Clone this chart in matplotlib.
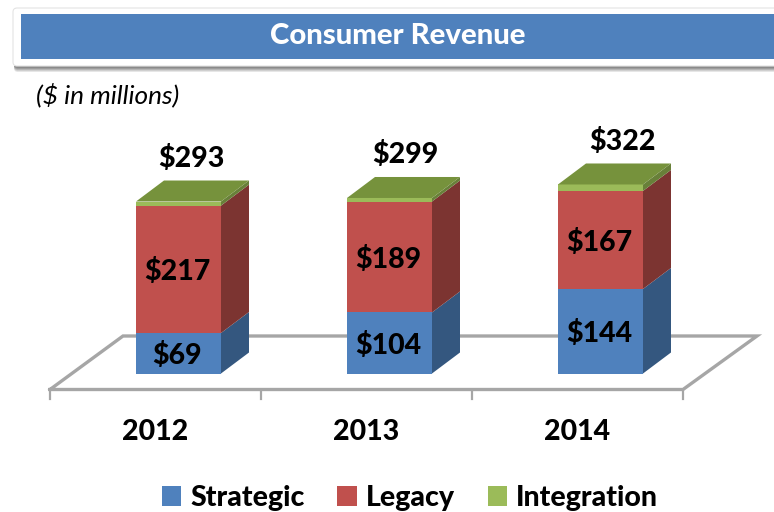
import matplotlib
matplotlib.use('Agg')
import matplotlib.pyplot as plt
from matplotlib.patches import Polygon, Patch, Rectangle, FancyBboxPatch

plt.rcParams['font.family'] = ['Lato', 'DejaVu Sans']

years = ['2012', '2013', '2014']
strategic = [69, 104, 144]
legacy = [217, 189, 167]
integration = [7, 6, 11]
totals = [293, 299, 322]
series_names = ['Strategic', 'Legacy', 'Integration']

front_colors = ['#4f81bd', '#c0504d', '#9bbb59']
side_colors = ['#34577f', '#7c3431', '#688039']
top_color = '#76923c'
heavy = 900
total_nudge = [-1, 2, 8]  # px, the total labels are not quite centred on the bars

W, H = 774, 512
fig = plt.figure(figsize=(W / 100, H / 100), dpi=100)

# page furniture, in pixels from the top left
bg = fig.add_axes([0, 0, 1, 1])
bg.set_xlim(0, W)
bg.set_ylim(H, 0)
bg.axis('off')
for grow, shade in zip([6, 5, 4, 3, 2], ['#e6e6e6', '#cfcfcf', '#b5b5b5', '#9c9c9c', '#8a8a8a']):
    bg.add_patch(FancyBboxPatch((14, 8), 800, 58 + grow, boxstyle='round,pad=0,rounding_size=4',
                                fc=shade, ec='none'))
bg.add_patch(FancyBboxPatch((13, 8), 800, 58, boxstyle='round,pad=0,rounding_size=4',
                            fc='white', ec='#e4e4e4', lw=0.8))
bg.add_patch(Rectangle((21, 14), 760, 45, fc='#4f81bd', ec='none'))
bg.text(398, 36, 'Consumer Revenue', color='white', fontsize=21.2, fontweight=heavy,
        ha='center', va='center')
bg.text(36, 95, '($ in millions)', color='black', fontsize=18.9, style='italic',
        ha='left', va='center')

# chart axes: one category = 211 px, one dollar = 0.587 px
px_x = 211.0
px_y = 0.587
x0 = 155.5
y0 = 373.5
ax = fig.add_axes([0, 0, 1, 1])
ax.patch.set_alpha(0)
ax.set_xlim(-x0 / px_x, (W - x0) / px_x)
ax.set_ylim(-(H - y0) / px_y, y0 / px_y)
ax.axis('off')

bar_w = 85 / px_x
bar_shift = 23 / px_x
dx = 28 / px_x
dy = 21 / px_y
floor_low = -16 / px_y
floor_high = 37.5 / px_y
gray = '#a6a6a6'

# floor
ax.plot([-0.5, 2.5, 2.5 + 74 / px_x, -0.5 + 73 / px_x, -0.5],
        [floor_low, floor_low, floor_high, floor_high, floor_low],
        color=gray, lw=2.4, zorder=1, solid_joinstyle='miter')
for t in [-0.5, 0.5, 1.5, 2.5]:
    ax.plot([t, t], [floor_low, floor_low - 9 / px_y], color=gray, lw=1.6, zorder=1)

# bars
for i in range(len(years)):
    bottom = 0
    cx = i + bar_shift
    left = cx - bar_w / 2
    right = cx + bar_w / 2
    stack = [strategic[i], legacy[i], integration[i]]
    for k, val in enumerate(stack):
        top = bottom + val
        ax.bar(cx, val, bar_w, bottom=bottom, color=front_colors[k], zorder=3)
        ax.add_patch(Polygon([(right, bottom), (right + dx, bottom + dy),
                              (right + dx, top + dy), (right, top)],
                             fc=side_colors[k], ec='none', zorder=3))
        if k < 2:
            ax.text(cx - 0.005, bottom + val / 2 - 2.5 / px_y, '$%d' % val, fontsize=20.5,
                    fontweight=heavy, ha='center', va='center', zorder=5)
        bottom = top
    ax.add_patch(Polygon([(left, bottom), (left + dx, bottom + dy),
                          (right + dx, bottom + dy), (right, bottom)],
                         fc=top_color, ec='none', zorder=3))
    ax.text(cx + dx / 2 + total_nudge[i] / px_x, totals[i] + dy + 22 / px_y, '$%d' % totals[i],
            fontsize=20.5, fontweight=heavy, ha='center', va='center', zorder=5)
    ax.text(i, -58.5 / px_y, years[i], fontsize=20.5, fontweight=heavy,
            ha='center', va='center')

handles = [Patch(fc=c, ec='none') for c in front_colors]
ax.legend(handles, series_names, loc='center', bbox_to_anchor=(410 / W, 1 - 498 / H),
          ncol=3, frameon=False, prop={'weight': heavy, 'size': 20.5},
          handlelength=0.68, handleheight=0.68, handletextpad=0.32, columnspacing=1.15)

fig.savefig('out.png', dpi=100)
